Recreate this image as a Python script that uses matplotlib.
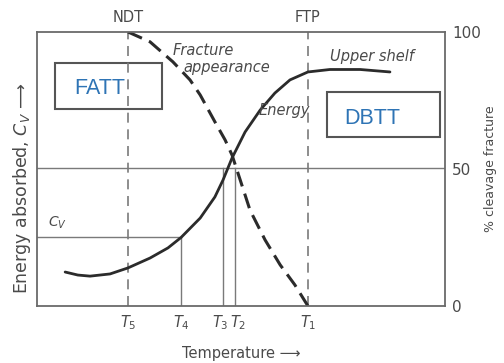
import matplotlib.pyplot as plt
from matplotlib.patches import Rectangle
from matplotlib.transforms import ScaledTranslation

# temperature scale is arbitrary: 0..100 across the frame, y in % (0..100)
t_marks = [22.3, 35.3, 45.6, 48.6, 66.4]
t_labels = ['$T_5$', '$T_4$', '$T_3$', '$T_2$', '$T_1$']
ndt_x = 22.3
ftp_x = 66.4

energy_x = [6.9, 10.0, 13.0, 17.9, 22.3, 27.7, 32.1, 35.3, 40.0, 43.6, 45.6,
            47.8, 51.0, 54.7, 58.3, 62.0, 66.4, 71.8, 79.2, 86.5]
energy_y = [12.4, 11.3, 10.9, 11.7, 13.9, 17.5, 21.2, 25.0, 32.1, 39.8, 46.0,
            54.0, 63.5, 71.5, 77.7, 82.5, 85.4, 86.3, 86.3, 85.4]

frac_x = [22.3, 27.7, 33.3, 37.5, 40.0, 43.6, 46.1, 47.8, 49.8, 52.2, 55.9,
          59.6, 63.2, 66.4]
frac_y = [100.0, 96.4, 89.1, 82.5, 77.0, 67.2, 60.6, 55.1, 46.0, 35.0, 24.1,
          15.0, 7.7, 0.0]

cv_level = 25.0
half_level = 50.5
right_ticks = [0, 50, 100]

ink = '#2b2b2b'
thin = '#7a7a7a'
txt = '#4a4a4a'
blue = '#2e74b5'

fig = plt.figure(figsize=(5.04, 3.63), dpi=100)
ax = fig.add_axes([0.0734, 0.157, 0.8096, 0.755])
ax.set_xlim(0, 100)
ax.set_ylim(0, 100)

for s in ax.spines.values():
    s.set_color('#6a6a6a')
    s.set_linewidth(1.3)

# guide lines
ax.axhline(half_level, color=thin, lw=1.0)
ax.plot([0, t_marks[1]], [cv_level, cv_level], color=thin, lw=1.0)
ax.plot([t_marks[1], t_marks[1]], [0, cv_level], color=thin, lw=1.0)
ax.plot([t_marks[2], t_marks[2]], [0, half_level], color=thin, lw=1.0)
ax.plot([t_marks[3], t_marks[3]], [0, half_level], color=thin, lw=1.0)
ax.axvline(ndt_x, color=thin, lw=1.2, dashes=(6, 4))
ax.axvline(ftp_x, color=thin, lw=1.2, dashes=(6, 4))

# curves
ax.plot(energy_x, energy_y, color=ink, lw=2.0, solid_capstyle='round')
ax.plot(frac_x, frac_y, color=ink, lw=2.2, dashes=(5, 2.5))

# boxes
ax.add_patch(Rectangle((4.4, 71.9), 26.2, 16.8, fill=False, ec='#555555', lw=1.5))
ax.add_patch(Rectangle((71.1, 61.7), 27.7, 16.4, fill=False, ec='#555555', lw=1.5))
box_font = ['Liberation Sans Narrow', 'Liberation Sans', 'DejaVu Sans']
ax.text(15.4, 79.2, 'FATT', color=blue, fontsize=15.5, family=box_font,
        ha='center', va='center')
ax.text(82.1, 68.6, 'DBTT', color=blue, fontsize=15.5, family=box_font,
        ha='center', va='center')

# annotations
ax.text(33.3, 93.4, 'Fracture', style='italic', color=txt, fontsize=10.5, va='center')
ax.text(36.0, 87.2, 'appearance', style='italic', color=txt, fontsize=10.5, va='center')
ax.text(71.8, 90.9, 'Upper shelf', style='italic', color=txt, fontsize=10.5, va='center')
ax.text(54.2, 71.5, 'Energy', style='italic', color=txt, fontsize=10.5, va='center')
ax.text(2.7, 30.5, '$C_V$', color=txt, fontsize=10, va='center')
ax.text(ndt_x, 105.2, 'NDT', color=txt, fontsize=10.5, ha='center', va='center')
ax.text(ftp_x, 105.2, 'FTP', color=txt, fontsize=10.5, ha='center', va='center')

# axes labels
ax.set_xticks(t_marks)
ax.set_xticklabels(t_labels, fontsize=10.5, color=txt)
ax.set_yticks([])
ax.tick_params(axis='x', length=0, pad=5)
xt = ax.get_xticklabels()
xt[2].set_transform(xt[2].get_transform() + ScaledTranslation(-2 / 72, 0, fig.dpi_scale_trans))
xt[3].set_transform(xt[3].get_transform() + ScaledTranslation(2 / 72, 0, fig.dpi_scale_trans))
ax.set_xlabel('Temperature \u27f6', fontsize=10.5, color=txt, labelpad=10)
ax.set_ylabel('Energy absorbed, $C_V$ \u27f6', fontsize=12.5, color=txt)
ax.yaxis.set_label_coords(-0.01, 0.43)

ax2 = ax.twinx()
ax2.set_ylim(0, 100)
ax2.set_yticks(right_ticks)
ax2.set_yticklabels([str(v) for v in right_ticks], fontsize=11, color=txt)
ax2.tick_params(axis='y', length=0, pad=5)
ax2.set_ylabel('% cleavage fracture', fontsize=9, color=txt)
ax2.yaxis.set_label_coords(1.095, 0.5)
for s in ax2.spines.values():
    s.set_visible(False)

fig.savefig('out.png', dpi=100)
